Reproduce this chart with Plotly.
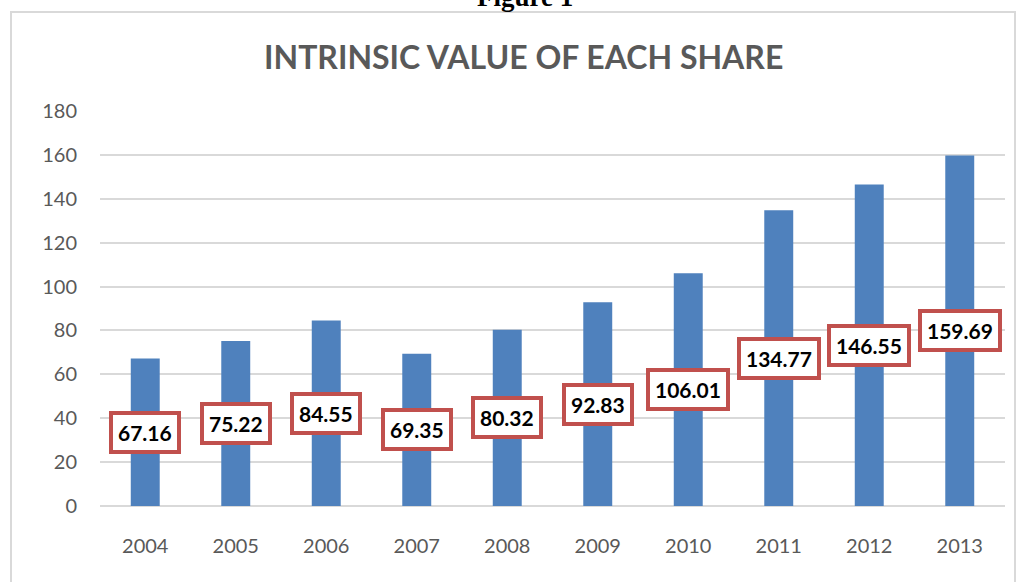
import plotly.graph_objects as go

years = ["2004", "2005", "2006", "2007", "2008", "2009", "2010", "2011", "2012", "2013"]
values = [67.16, 75.22, 84.55, 69.35, 80.32, 92.83, 106.01, 134.77, 146.55, 159.69]
y_ticks = [0, 20, 40, 60, 80, 100, 120, 140, 160, 180]

W, H = 1022, 582
L, R, T, B = 100, 17, 111, 76
pw, ph = W - L - R, H - T - B

def px_x(p):
    return (p - L) / pw

def px_y(p):
    return (H - B - p) / ph

fig = go.Figure()
fig.add_trace(go.Bar(
    x=years, y=values,
    marker=dict(color="#4F81BD", line=dict(width=0)),
    hoverinfo="skip",
))

annotations = []
for i, v in enumerate(values):
    annotations.append(dict(
        x=i, y=v / 2, xref="x", yref="y", showarrow=False,
        text="<b>%.2f</b>" % v,
        font=dict(family="Lato", size=21, color="#000000"),
        bgcolor="#FFFFFF", bordercolor="#C0504D", borderwidth=4, borderpad=5,
        xanchor="center", yanchor="middle",
    ))

annotations.append(dict(
    x=px_x(523), y=px_y(57), xref="paper", yref="paper", showarrow=False,
    text="<b>INTRINSIC VALUE OF EACH SHARE</b>",
    font=dict(family="Lato", size=32, color="#595959"),
    xanchor="center", yanchor="middle",
))

annotations.append(dict(
    x=px_x(525), y=px_y(14), xref="paper", yref="paper", showarrow=False,
    text="<b>Figure 1</b>",
    font=dict(family="Liberation Serif", size=27, color="#000000"),
    xanchor="center", yanchor="bottom",
))

fig.update_layout(
    width=W, height=H,
    margin=dict(l=L, r=R, t=T, b=B, pad=0),
    paper_bgcolor="#FFFFFF", plot_bgcolor="#FFFFFF",
    bargap=0.68,
    showlegend=False,
    annotations=annotations,
    shapes=[dict(
        type="rect", xref="paper", yref="paper",
        x0=px_x(11), x1=px_x(1015), y0=px_y(600), y1=px_y(12),
        line=dict(color="#D9D9D9", width=2), fillcolor="rgba(0,0,0,0)", layer="below",
    )],
    xaxis=dict(
        type="category", range=[-0.5, 9.5], autorange=False,
        showgrid=False, showline=False, ticks="",
        tickfont=dict(family="Lato", size=20, color="#595959"),
        ticklabelstandoff=26, zeroline=False,
    ),
    yaxis=dict(
        range=[0, 180], autorange=False, tickvals=y_ticks,
        showgrid=True, gridcolor="#D9D9D9", gridwidth=1.5,
        zeroline=True, zerolinecolor="#D9D9D9", zerolinewidth=2,
        showline=False, ticks="",
        tickfont=dict(family="Lato", size=20, color="#595959"),
        ticklabelstandoff=22,
    ),
)

fig.write_html(
    "out.html",
    config={"displayModeBar": False},
    post_script="document.body.style.margin='0';document.body.style.overflow='hidden';",
)
